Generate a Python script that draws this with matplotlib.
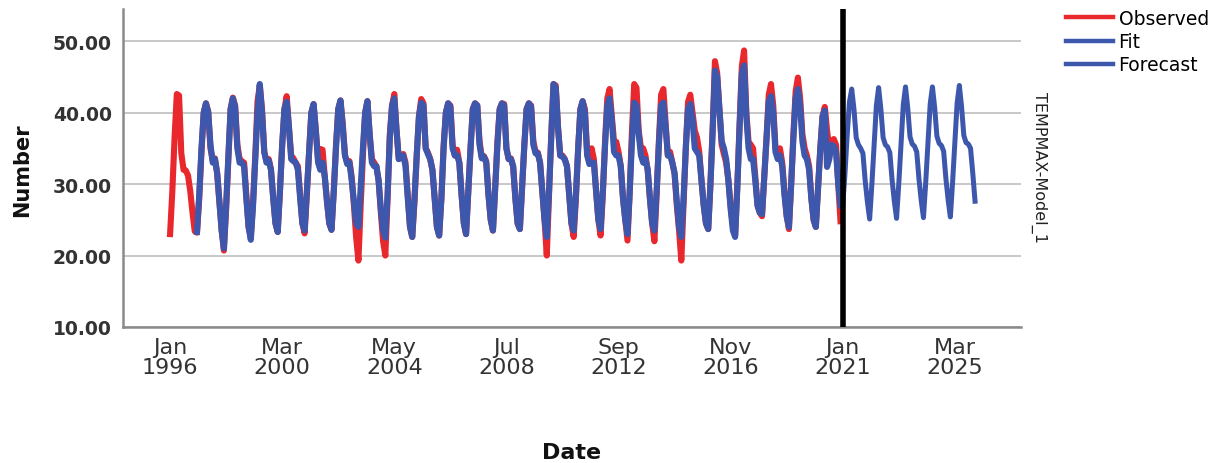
import numpy as np
import matplotlib
matplotlib.use('Agg')
import matplotlib.pyplot as plt

# 观测值 Observed, 1996-2020, 每行一年 (Jan..Dec)
observed = [
    [23.0, 29.0, 36.5, 42.6, 42.4, 34.3, 32.0, 31.9, 31.2, 29.0, 26.0, 23.4],
    [23.2, 28.0, 34.5, 40.0, 41.3, 40.2, 35.0, 33.4, 33.6, 31.5, 27.5, 23.5],
    [20.7, 26.5, 33.5, 40.5, 42.1, 41.0, 35.5, 33.5, 33.2, 33.0, 28.5, 24.0],
    [22.6, 27.5, 34.0, 41.6, 43.8, 40.5, 34.5, 33.2, 33.5, 32.0, 28.0, 24.5],
    [23.3, 29.0, 35.5, 40.5, 42.3, 38.0, 34.0, 33.6, 33.0, 32.5, 28.5, 24.5],
    [23.1, 28.5, 34.5, 40.0, 41.2, 37.5, 33.5, 34.9, 34.8, 31.0, 27.5, 24.5],
    [23.6, 29.0, 35.5, 40.5, 41.7, 38.5, 34.0, 33.0, 33.2, 31.0, 27.0, 22.5],
    [19.3, 27.0, 34.0, 40.0, 41.6, 37.0, 33.5, 33.0, 32.5, 30.5, 26.0, 22.0],
    [20.0, 28.0, 37.0, 41.0, 42.6, 37.5, 33.5, 34.0, 34.2, 33.0, 28.5, 24.0],
    [22.6, 27.5, 34.0, 39.5, 41.9, 41.3, 35.0, 34.4, 33.5, 32.0, 28.0, 24.0],
    [22.8, 28.0, 35.5, 40.0, 41.3, 41.0, 35.5, 34.0, 34.8, 33.0, 28.5, 24.5],
    [23.0, 29.0, 35.0, 40.5, 41.3, 41.0, 36.0, 33.8, 33.9, 33.2, 28.5, 25.0],
    [23.5, 29.5, 36.0, 40.5, 41.3, 41.2, 35.0, 33.5, 33.6, 32.5, 28.0, 24.5],
    [23.7, 29.5, 35.5, 40.5, 41.3, 41.0, 36.0, 34.5, 34.4, 33.0, 29.0, 25.0],
    [20.0, 28.5, 37.0, 44.0, 43.8, 38.0, 34.0, 34.0, 33.5, 32.5, 28.5, 24.5],
    [22.6, 28.0, 35.0, 40.5, 41.6, 40.5, 34.5, 33.0, 35.0, 33.5, 29.0, 25.0],
    [22.8, 28.5, 36.0, 42.0, 43.3, 39.5, 35.9, 35.9, 34.5, 32.5, 28.0, 25.0],
    [22.1, 29.0, 37.5, 44.0, 43.5, 37.5, 35.0, 35.0, 34.0, 32.0, 28.0, 24.5],
    [22.0, 28.5, 36.0, 42.5, 43.3, 38.5, 34.0, 34.5, 33.0, 31.5, 27.0, 23.5],
    [19.3, 27.0, 35.0, 41.5, 42.5, 40.0, 37.5, 36.5, 34.5, 30.5, 27.0, 24.5],
    [23.7, 30.0, 38.0, 47.2, 45.5, 40.5, 35.5, 34.2, 33.0, 30.5, 27.0, 24.2],
    [22.8, 30.0, 38.5, 46.5, 48.7, 40.0, 35.9, 35.5, 35.0, 31.0, 27.0, 26.0],
    [25.5, 31.0, 36.5, 42.5, 44.0, 41.0, 35.0, 34.7, 35.0, 33.0, 29.0, 25.5],
    [23.7, 30.0, 37.0, 43.0, 44.9, 42.0, 37.0, 35.0, 34.0, 32.5, 28.0, 25.0],
    [24.0, 29.5, 35.0, 39.5, 40.8, 37.5, 35.0, 36.0, 36.3, 35.5, 30.0, 24.8],
]

# 拟合值 Fit, 1997-2020
fit = [
    [23.3, 28.5, 35.0, 40.0, 41.3, 40.0, 35.5, 33.0, 33.5, 31.5, 27.5, 23.5],
    [21.0, 27.0, 34.0, 40.5, 42.0, 40.8, 35.0, 33.0, 33.0, 32.5, 28.0, 24.0],
    [22.2, 27.0, 33.5, 40.0, 44.0, 40.0, 34.5, 33.0, 33.3, 32.0, 28.0, 24.5],
    [23.3, 29.0, 35.5, 40.5, 41.5, 38.0, 33.5, 33.2, 33.0, 32.0, 28.0, 24.5],
    [23.5, 29.0, 34.5, 40.0, 41.2, 37.5, 33.0, 32.0, 33.0, 31.0, 27.5, 24.5],
    [23.6, 29.0, 35.0, 40.5, 41.7, 38.0, 34.0, 32.8, 33.0, 30.5, 27.5, 24.5],
    [24.0, 29.5, 35.0, 40.0, 41.6, 37.0, 33.0, 32.5, 32.5, 30.5, 26.5, 23.5],
    [22.5, 28.5, 36.5, 41.0, 42.0, 37.5, 33.5, 33.8, 34.0, 32.5, 28.0, 24.0],
    [22.6, 28.0, 34.0, 39.5, 41.4, 41.0, 35.0, 34.2, 33.5, 32.0, 28.0, 24.0],
    [22.8, 28.0, 35.0, 40.0, 41.3, 40.8, 35.0, 34.0, 34.0, 33.0, 28.5, 24.5],
    [23.0, 29.0, 35.0, 40.5, 41.3, 41.0, 35.5, 33.6, 33.8, 33.0, 28.5, 25.0],
    [23.5, 29.5, 35.5, 40.5, 41.3, 41.0, 35.0, 33.5, 33.5, 32.5, 28.0, 24.5],
    [23.7, 29.5, 35.5, 40.5, 41.3, 40.8, 35.5, 34.3, 34.3, 33.0, 29.0, 25.0],
    [22.6, 29.0, 36.5, 44.0, 43.5, 38.0, 34.0, 33.8, 33.5, 32.5, 28.5, 24.5],
    [23.5, 28.5, 35.0, 40.5, 41.6, 40.0, 34.0, 32.8, 33.0, 33.0, 29.0, 25.0],
    [23.7, 29.0, 35.5, 41.0, 42.0, 39.0, 34.5, 34.0, 34.0, 32.5, 28.0, 25.0],
    [23.0, 29.0, 36.0, 41.4, 41.0, 37.0, 34.0, 33.0, 33.5, 32.0, 28.0, 24.5],
    [23.5, 29.0, 35.5, 41.0, 41.4, 38.0, 34.0, 34.0, 33.0, 31.5, 27.5, 24.0],
    [22.6, 28.0, 35.0, 40.5, 41.2, 39.0, 35.0, 34.5, 34.0, 30.5, 27.0, 24.5],
    [23.7, 30.0, 37.5, 45.9, 45.0, 40.5, 36.0, 35.0, 33.5, 30.5, 26.5, 23.5],
    [22.6, 29.5, 38.0, 45.5, 46.6, 39.5, 35.0, 33.5, 33.5, 30.5, 27.0, 26.0],
    [25.8, 31.0, 36.0, 41.5, 42.3, 40.0, 34.5, 33.5, 34.0, 32.5, 28.5, 25.5],
    [24.0, 30.0, 36.5, 42.0, 43.3, 41.0, 36.0, 34.0, 33.5, 32.0, 28.0, 25.0],
    [24.0, 29.5, 35.0, 39.5, 40.3, 32.4, 33.5, 35.5, 35.3, 34.5, 30.0, 27.0],
]

# 预测值 Forecast, 2021-2025
forecast = [
    [27.0, 31.5, 37.0, 41.5, 43.3, 40.5, 36.5, 35.5, 35.0, 34.3, 30.5, 27.5],
    [25.1, 30.0, 35.5, 41.0, 43.5, 40.5, 36.5, 35.5, 35.2, 34.4, 30.6, 27.6],
    [25.2, 30.1, 35.6, 41.1, 43.6, 40.6, 36.6, 35.6, 35.3, 34.5, 30.7, 27.7],
    [25.3, 30.2, 35.7, 41.2, 43.6, 40.7, 36.7, 35.7, 35.4, 34.6, 30.8, 27.8],
    [25.4, 30.3, 35.8, 41.3, 43.8, 40.8, 36.8, 35.8, 35.6, 35.0, 31.5, 27.6],
]

first_year = 1996
fit_start_year = 1997
forecast_start_year = 2021

tick_labels = ['Jan\n1996', 'Mar\n2000', 'May\n2004', 'Jul\n2008',
               'Sep\n2012', 'Nov\n2016', 'Jan\n2021', 'Mar\n2025']
tick_months = [0, 50, 100, 150, 200, 250, 300, 350]   # 距 1996年1月 的月数

RED = '#E8282D'
BLUE = '#3D57AC'


def month_index(start_year, rows):
    n = len(rows) * 12
    s = (start_year - first_year) * 12
    return np.arange(s, s + n)


def main():
    obs_y = np.array(observed).ravel()
    fit_y = np.array(fit).ravel()
    fc_y = np.array(forecast).ravel()

    fig = plt.figure(figsize=(12.28, 4.64), dpi=100)
    ax = fig.add_axes([123 / 1228, 1 - 328 / 464, 898 / 1228, 318 / 464])

    l1, = ax.plot(month_index(first_year, observed), obs_y, color=RED, lw=4.4, label='Observed')
    l2, = ax.plot(month_index(fit_start_year, fit), fit_y, color=BLUE, lw=4.4, label='Fit')
    l3, = ax.plot(month_index(forecast_start_year, forecast), fc_y, color=BLUE, lw=3.6, label='Forecast')

    # 预测起点竖线
    ax.axvline((forecast_start_year - first_year) * 12, color='black', lw=4.0, zorder=5)

    ax.set_xlim(-21, 379.5)
    ax.set_ylim(10, 54.5)
    ax.set_yticks([10, 20, 30, 40, 50])
    ax.set_yticklabels(['%.2f' % v for v in [10, 20, 30, 40, 50]],
                       fontsize=13.5, fontweight='bold', color='#333333')
    ax.set_xticks(tick_months)
    ax.set_xticklabels(tick_labels, fontsize=16, color='#333333', linespacing=1.0)
    ax.tick_params(axis='both', length=0)
    ax.tick_params(axis='y', pad=8)
    ax.tick_params(axis='x', pad=7)

    ax.yaxis.grid(True, color='#c8c8c8', lw=1.4)
    ax.set_axisbelow(True)
    for side in ['top', 'right']:
        ax.spines[side].set_visible(False)
    for side in ['left', 'bottom']:
        ax.spines[side].set_color('#8a8a8a')
        ax.spines[side].set_linewidth(1.8)

    fig.text(22 / 1228, 1 - 170 / 464, 'Number', rotation=90, ha='center', va='center',
             fontsize=15, fontweight='bold', color='#111111')
    fig.text(572 / 1228, 1 - 453 / 464, 'Date', ha='center', va='center',
             fontsize=16, fontweight='bold', color='#111111')
    fig.text(1039 / 1228, 1 - 168 / 464, 'TEMPMAX-Model_1', rotation=270, ha='center', va='center',
             fontsize=11.5, color='#222222')

    leg = fig.legend([l1, l2, l3], ['Observed', 'Fit', 'Forecast'], loc='upper left',
                     bbox_to_anchor=(1066 / 1228, 1 - 10 / 464), frameon=False, fontsize=13.5,
                     handlelength=2.5, handletextpad=0.3, labelspacing=0.22,
                     borderpad=0, borderaxespad=0)
    for h in leg.get_lines():
        h.set_linewidth(3.2)

    fig.savefig('out.png', dpi=100)


if __name__ == '__main__':
    main()
